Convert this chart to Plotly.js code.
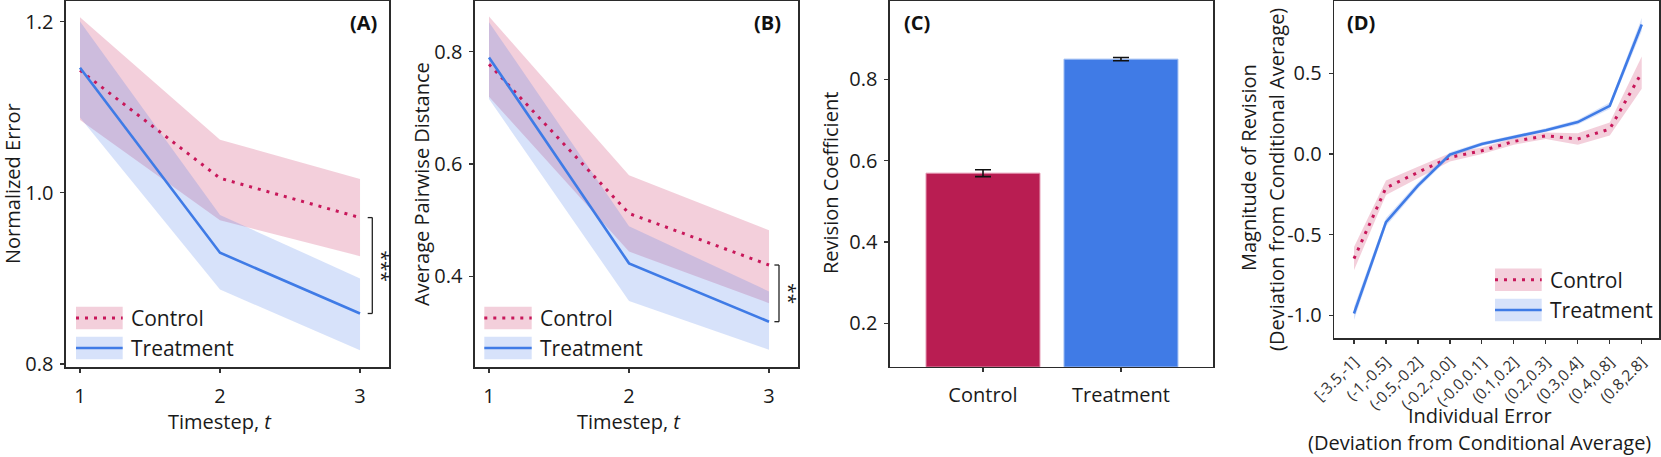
<!DOCTYPE html>
<html>
<head>
<meta charset="utf-8">
<script src="https://cdn.plot.ly/plotly-3.0.1.min.js"></script>
<style>html,body{margin:0;padding:0;background:#fff;}#chart{width:1661px;height:457px;}</style>
</head>
<body>
<div id="chart"></div>
<script>
// ---------------- DATA ----------------
const timesteps = [1, 2, 3];
// Panel A: Normalized Error
const errControl = [1.143, 1.017, 0.971];
const errControlLo = [1.085, 0.968, 0.926];
const errControlHi = [1.205, 1.062, 1.016];
const errTreatment = [1.146, 0.930, 0.859];
const errTreatmentLo = [1.088, 0.887, 0.816];
const errTreatmentHi = [1.200, 0.974, 0.900];
// Panel B: Average Pairwise Distance
const distControl = [0.778, 0.512, 0.420];
const distControlLo = [0.720, 0.444, 0.352];
const distControlHi = [0.863, 0.580, 0.482];
const distTreatment = [0.790, 0.423, 0.319];
const distTreatmentLo = [0.716, 0.356, 0.269];
const distTreatmentHi = [0.853, 0.489, 0.373];
// Panel C: Revision Coefficient
const conditions = ['Control', 'Treatment'];
const revCoef = [0.569, 0.849];
const revCoefErr = [0.0085, 0.004];
// Panel D: Magnitude of revision by individual error bin
const errorBins = ['[-3.5,-1]', '(-1,-0.5]', '(-0.5,-0.2]', '(-0.2,-0.0]', '(-0.0,0.1]', '(0.1,0.2]', '(0.2,0.3]', '(0.3,0.4]', '(0.4,0.8]', '(0.8,2.8]'];
const magControl = [-0.649, -0.210, -0.114, -0.021, 0.020, 0.078, 0.113, 0.093, 0.155, 0.505];
const magControlSe = [0.072, 0.045, 0.035, 0.025, 0.020, 0.020, 0.020, 0.035, 0.040, 0.100];
const magTreatment = [-0.990, -0.423, -0.196, -0.004, 0.062, 0.103, 0.148, 0.198, 0.299, 0.804];
const magTreatmentSe = [0.040, 0.025, 0.020, 0.015, 0.012, 0.012, 0.012, 0.015, 0.020, 0.040];

// ---------------- STYLE ----------------
const W = 1661, H = 457;
const FONT = 'Open Sans';
const TXT = '#1a1a1a';
const FS = 20;
const C_LINE = '#C8175A', T_LINE = '#3F7BE6';
const C_FILL = 'rgba(200,30,85,0.21)', T_FILL = 'rgba(64,120,230,0.21)';
const C_BAR = '#B91D52', T_BAR = '#407BE6';
const DOT = '3px,6px';
const px = x => x / W;
const py = y => 1 - y / H;

function ribbon(x, lo, hi, color, xa, ya) {
  return {x: x.concat(x.slice().reverse()), y: hi.concat(lo.slice().reverse()),
    type: 'scatter', mode: 'lines', fill: 'toself', fillcolor: color,
    line: {width: 0, color: 'rgba(0,0,0,0)'}, hoverinfo: 'skip', showlegend: false, xaxis: xa, yaxis: ya};
}
function line(x, y, color, dash, xa, ya) {
  return {x: x, y: y, type: 'scatter', mode: 'lines', line: {color: color, width: dash === 'solid' ? 2.6 : 3, dash: dash},
    showlegend: false, xaxis: xa, yaxis: ya};
}
const addSe = (m, s, sign) => m.map((v, i) => v + sign * s[i]);

const traces = [
  ribbon(timesteps, errControlLo, errControlHi, C_FILL, 'x', 'y'),
  ribbon(timesteps, errTreatmentLo, errTreatmentHi, T_FILL, 'x', 'y'),
  line(timesteps, errControl, C_LINE, DOT, 'x', 'y'),
  line(timesteps, errTreatment, T_LINE, 'solid', 'x', 'y'),
  ribbon(timesteps, distControlLo, distControlHi, C_FILL, 'x2', 'y2'),
  ribbon(timesteps, distTreatmentLo, distTreatmentHi, T_FILL, 'x2', 'y2'),
  line(timesteps, distControl, C_LINE, DOT, 'x2', 'y2'),
  line(timesteps, distTreatment, T_LINE, 'solid', 'x2', 'y2'),
  {x: conditions, y: revCoef, type: 'bar', width: 0.826, xaxis: 'x3', yaxis: 'y3', showlegend: false,
    marker: {color: [C_BAR, T_BAR], line: {color: ['#E597B2', '#9DBDF3'], width: 1}},
    error_y: {type: 'data', array: revCoefErr, visible: true, color: '#111', thickness: 1.6, width: 8}},
  ribbon(errorBins, addSe(magControl, magControlSe, -1), addSe(magControl, magControlSe, 1), C_FILL, 'x4', 'y4'),
  ribbon(errorBins, addSe(magTreatment, magTreatmentSe, -1), addSe(magTreatment, magTreatmentSe, 1), T_FILL, 'x4', 'y4'),
  line(errorBins, magControl, C_LINE, DOT, 'x4', 'y4'),
  line(errorBins, magTreatment, T_LINE, 'solid', 'x4', 'y4')
];

const axBase = {showline: true, mirror: true, linecolor: '#2b2b2b', linewidth: 1.6, showgrid: false, zeroline: false,
  ticks: 'outside', ticklen: 4, tickwidth: 1.2, tickcolor: '#333', tickfont: {family: FONT, size: FS, color: TXT}};
const ax = o => Object.assign({}, axBase, o);
const xs = o => ax(Object.assign({ticklabelstandoff: 6}, o));
const ys = o => ax(Object.assign({ticklabelstandoff: 3}, o));

const yTop = py(1), yBot = py(367), yBotD = py(338.3);

const layout = {
  width: W, height: H, margin: {l: 0, r: 0, t: 0, b: 0}, paper_bgcolor: '#fff', plot_bgcolor: '#fff',
  showlegend: false, font: {family: FONT, color: TXT},
  xaxis: xs({domain: [px(66), px(389)], range: [0.9, 3.207], tickvals: timesteps, anchor: 'y'}),
  yaxis: ys({domain: [yBot, yTop], range: [0.7965, 1.224], tickvals: [0.8, 1.0, 1.2], ticktext: ['0.8', '1.0', '1.2'], anchor: 'x'}),
  xaxis2: xs({domain: [px(475), px(798)], range: [0.9, 3.207], tickvals: timesteps, anchor: 'y2'}),
  yaxis2: ys({domain: [yBot, yTop], range: [0.2382, 0.8907], tickvals: [0.4, 0.6, 0.8], ticktext: ['0.4', '0.6', '0.8'], anchor: 'x2'}),
  xaxis3: xs({domain: [px(890), px(1213)], range: [-0.674, 1.667], type: 'category', anchor: 'y3'}),
  yaxis3: ys({domain: [py(366.7), yTop], range: [0.0937, 0.9918], tickvals: [0.2, 0.4, 0.6, 0.8], ticktext: ['0.2', '0.4', '0.6', '0.8'], anchor: 'x3'}),
  xaxis4: ax({domain: [px(1334.3), px(1659)], range: [-0.616, 9.54], type: 'category', categoryorder: 'array', categoryarray: errorBins,
    tickangle: -45, ticklabelstandoff: 3, tickfont: {family: FONT, size: 15.5, color: '#333'}, anchor: 'y4'}),
  yaxis4: ys({domain: [yBotD, yTop], range: [-1.144, 0.9496], tickvals: [-1.0, -0.5, 0.0, 0.5], ticktext: ['-1.0', '-0.5', '0.0', '0.5'], anchor: 'x4'}),
  shapes: [],
  annotations: []
};

const ann = (x, y, text, o) => layout.annotations.push(Object.assign({xref: 'paper', yref: 'paper', x: px(x), y: py(y), text: text,
  showarrow: false, xanchor: 'center', yanchor: 'middle', font: {family: FONT, size: FS, color: TXT}}, o || {}));

// Axis titles
ann(12, 184, 'Normalized Error', {textangle: -90});
ann(220, 421.7, 'Timestep, <i>t</i>');
ann(421, 184, 'Average Pairwise Distance', {textangle: -90});
ann(629, 421.7, 'Timestep, <i>t</i>');
ann(831, 183, 'Revision Coefficient', {textangle: -90});
ann(1248, 168, 'Magnitude of Revision', {textangle: -90});
ann(1276, 180, '(Deviation from Conditional Average)', {textangle: -90});
ann(1480, 415, 'Individual Error');
ann(1479, 442, '(Deviation from Conditional Average)');

// Panel labels
const LBL = {family: FONT, size: 20, color: '#111'};
ann(379, 22.5, '<b>(A)</b>', {xanchor: 'right', font: LBL});
ann(783, 22.5, '<b>(B)</b>', {xanchor: 'right', font: LBL});
ann(902, 22.5, '<b>(C)</b>', {xanchor: 'left', font: LBL});
ann(1345, 22.5, '<b>(D)</b>', {xanchor: 'left', font: LBL});

// Significance brackets (anchored to the t=3 values)
function bracket(xpx, yref, a, b, stars, starX) {
  const x0 = px(xpx - 4.6), x1 = px(xpx);
  const L = {color: '#222', width: 1.3};
  layout.shapes.push({type: 'line', xref: 'paper', yref: yref, x0: x1, x1: x1, y0: a, y1: b, line: L});
  layout.shapes.push({type: 'line', xref: 'paper', yref: yref, x0: x0, x1: x1, y0: a, y1: a, line: L});
  layout.shapes.push({type: 'line', xref: 'paper', yref: yref, x0: x0, x1: x1, y0: b, y1: b, line: L});
  layout.annotations.push({xref: 'paper', yref: yref, x: px(starX), y: (a + b) / 2, text: stars, textangle: 90, showarrow: false,
    xanchor: 'center', yanchor: 'middle', font: {family: FONT, size: 19, color: TXT}});
}
bracket(372.3, 'y', errControl[2], errTreatment[2], '***', 382);
bracket(779, 'y2', distControl[2], distTreatment[2], '**', 789);

// Legends (drawn keys)
function legend(x0, x1, tx, rows) {
  rows.forEach(r => {
    layout.shapes.push({type: 'rect', xref: 'paper', yref: 'paper', x0: px(x0), x1: px(x1), y0: py(r.cy - 11.3), y1: py(r.cy + 11.3),
      fillcolor: r.fill, line: {width: 0}});
    layout.shapes.push({type: 'line', xref: 'paper', yref: 'paper', x0: px(x0), x1: px(x1), y0: py(r.cy), y1: py(r.cy),
      line: {color: r.color, width: r.dash === 'solid' ? 2.6 : 3, dash: r.dash}});
    ann(tx, r.cy, r.name, {xanchor: 'left', font: {family: FONT, size: 21, color: TXT}});
  });
}
const legRows = (c, t) => [
  {cy: c, fill: C_FILL, color: C_LINE, dash: DOT, name: 'Control'},
  {cy: t, fill: T_FILL, color: T_LINE, dash: 'solid', name: 'Treatment'}];
legend(76, 122.7, 129, legRows(318, 348));
legend(484.3, 531.7, 538, legRows(318, 348));
legend(1495, 1541.7, 1548, legRows(279.7, 310));

Plotly.newPlot('chart', traces, layout, {displayModeBar: false, staticPlot: true});
</script>
</body>
</html>
